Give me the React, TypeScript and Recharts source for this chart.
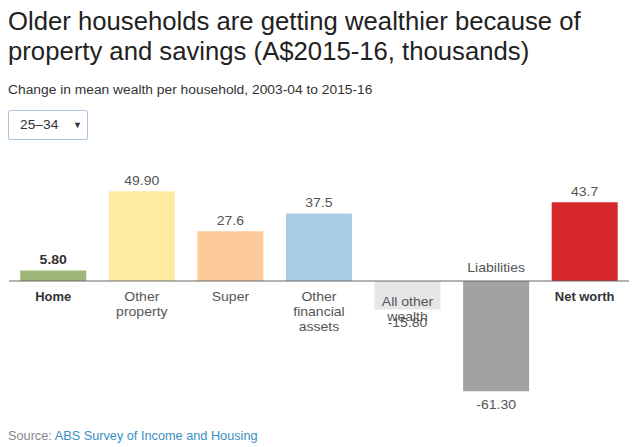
import React from 'react'
import { BarChart, Bar, XAxis, YAxis, Cell, LabelList, ReferenceLine } from 'recharts'

const categories = ['Home', 'Other property', 'Super', 'Other financial assets', 'All other wealth', 'Liabilities', 'Net worth']
const values = [5.8, 49.9, 27.6, 37.5, -15.8, -61.3, 43.7]
const valueLabels = ['5.80', '49.90', '27.6', '37.5', '-15.80', '-61.30', '43.7']
const labelLines = [['Home'], ['Other', 'property'], ['Super'], ['Other', 'financial', 'assets'], ['All other', 'wealth'], ['Liabilities'], ['Net worth']]
const colors = ['#9db779', '#fdeca0', '#fcca9b', '#a9cbe3', '#e6e6e9', '#a2a2a2', '#d6272c']
const boldCats = ['Home', 'Net worth']

const data = categories.map((name, i) => ({ name, value: values[i], idx: i }))

const FONT = '"Liberation Sans", Arial, Helvetica, sans-serif'
// the reference text is drawn a bit wide, so stretch it horizontally
const STRETCH = 1.17

function ValueLabel(props: any) {
  const { x, y, width, height, index } = props
  const base = y + height
  const v = values[index]
  const top = Math.min(y, base)
  const bottom = Math.max(y, base)
  const bold = index === 0
  const ty = v >= 0 ? top - 6.5 : bottom + 18
  return (
    <text
      transform={`translate(${x + width / 2} ${ty}) scale(${STRETCH} 1)`}
      x={0}
      y={0}
      textAnchor="middle"
      fontSize={12}
      fontFamily={FONT}
      fontWeight={bold ? 'bold' : 'normal'}
      fill={bold ? '#333' : '#555'}
    >
      {valueLabels[index]}
    </text>
  )
}

function CatLabel(props: any) {
  const { x, y, width, height, index } = props
  const base = y + height
  const name = categories[index]
  const lines = labelLines[index]
  const bold = boldCats.includes(name)
  const above = name === 'Liabilities'
  const startY = above ? base - 9 : base + (name === 'All other wealth' ? 25 : 19.5)
  return (
    <text
      transform={`translate(${x + width / 2} ${startY}) scale(${bold ? 1.08 : STRETCH} 1)`}
      x={0}
      y={0}
      textAnchor="middle"
      fontSize={12}
      fontFamily={FONT}
      fontWeight={bold ? 'bold' : 'normal'}
      fill={bold ? '#333' : '#555'}
    >
      {lines.map((l, i) => (
        <tspan key={i} x={0} dy={i === 0 ? 0 : 15.5}>
          {l}
        </tspan>
      ))}
    </text>
  )
}

const wide = (s: number): React.CSSProperties => ({ display: 'inline-block', transform: `scaleX(${s})`, transformOrigin: 'left center', whiteSpace: 'nowrap' })

export default function App() {
  return (
    <div style={{ position: 'absolute', left: 0, top: 0, width: 640, height: 447, background: '#fff', fontFamily: FONT }}>
      <div style={{ position: 'absolute', left: 8, top: 6, fontSize: 25.7, lineHeight: '30px', color: '#222', whiteSpace: 'nowrap' }}>
        Older households are getting wealthier because of
        <br />
        property and savings (A$2015-16, thousands)
      </div>
      <div style={{ position: 'absolute', left: 8, top: 83, fontSize: 12, color: '#333' }}>
        <span style={wide(1.15)}>Change in mean wealth per household, 2003-04 to 2015-16</span>
      </div>
      <div
        style={{
          position: 'absolute',
          left: 8,
          top: 110,
          width: 80,
          height: 30,
          border: '1px solid #a9c6e3',
          borderRadius: 2,
          boxSizing: 'border-box',
          fontSize: 12,
          color: '#333',
          lineHeight: '28px',
          paddingLeft: 11,
        }}
      >
        <span style={wide(1.15)}>25–34</span>
        <span style={{ position: 'absolute', left: 64, fontSize: 9 }}>▼</span>
      </div>
      <div style={{ position: 'absolute', left: 0, top: 150 }}>
        <BarChart width={640} height={270} data={data} margin={{ top: 23, right: 11, bottom: 13, left: 9 }} barCategoryGap="12.7%">
          <XAxis dataKey="name" hide />
          <YAxis hide domain={[-70, 60]} />
          <Bar dataKey="value" isAnimationActive={false}>
            {data.map((d, i) => (
              <Cell key={d.name} fill={colors[i]} />
            ))}
            <LabelList dataKey="value" content={<ValueLabel />} />
            <LabelList dataKey="name" content={<CatLabel />} />
          </Bar>
          <ReferenceLine y={0} stroke="#666" strokeWidth={1} />
        </BarChart>
      </div>
      <div style={{ position: 'absolute', left: 8, top: 429, fontSize: 12 }}>
        <span style={wide(1.06)}>
          <span style={{ color: '#888' }}>Source: </span>
          <span style={{ color: '#3a8fc2' }}>ABS Survey of Income and Housing</span>
        </span>
      </div>
    </div>
  )
}
